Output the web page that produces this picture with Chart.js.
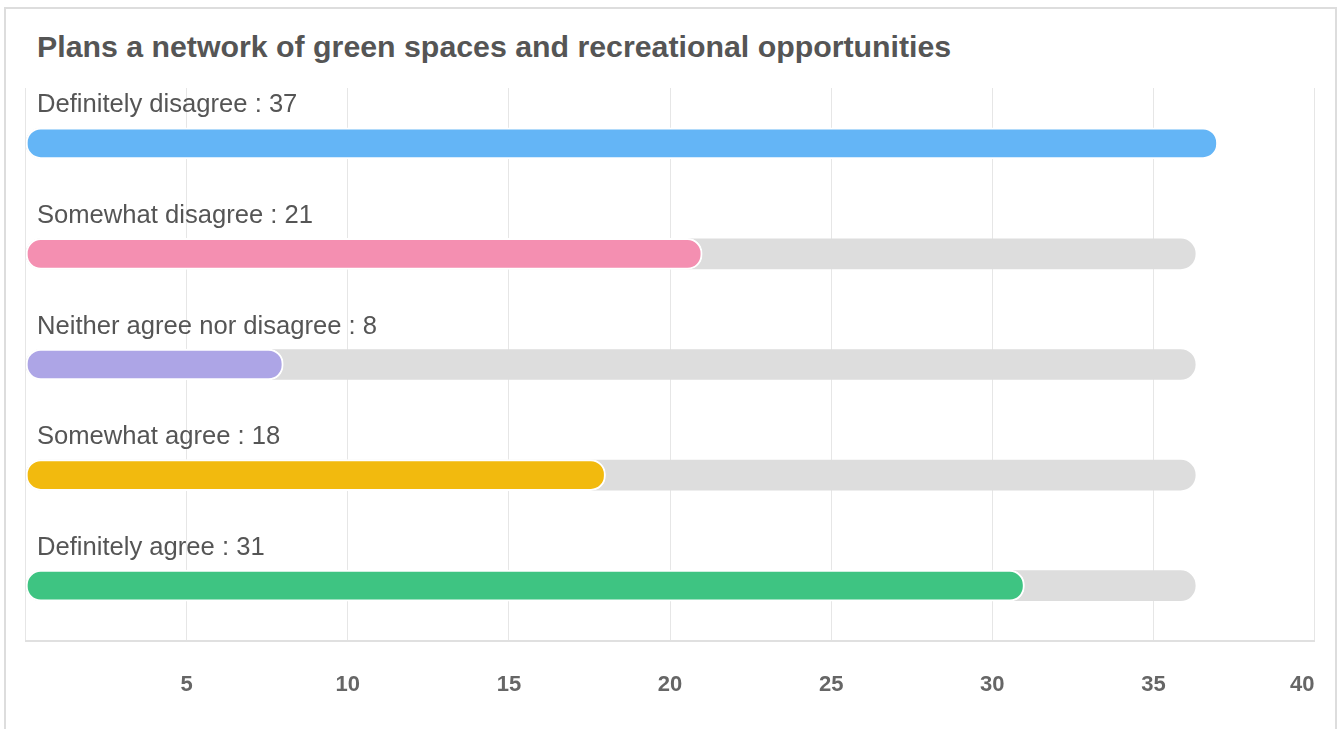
<!DOCTYPE html>
<html>
<head>
<meta charset="utf-8">
<script src="https://cdn.jsdelivr.net/npm/chart.js@4.4.1/dist/chart.umd.min.js"></script>
<style>
  html, body { margin: 0; padding: 0; background: #fff; overflow: hidden; }
  body { width: 1338px; height: 729px; position: relative; font-family: "Liberation Sans", Arial, sans-serif; }
  #card { position: absolute; left: 4px; top: 7px; width: 1333px; height: 800px; box-sizing: border-box; border: 2px solid #dddddd; }
  #title { position: absolute; left: 37px; top: 27px; margin: 0; font-size: 30.3px; font-weight: bold; color: #555555; line-height: 40px; white-space: nowrap; }
  #wrap { position: absolute; left: 0; top: 0; width: 1338px; height: 729px; }
</style>
</head>
<body>
<div id="card"></div>
<h1 id="title">Plans a network of green spaces and recreational opportunities</h1>
<div id="wrap"><canvas id="c" width="1338" height="729"></canvas></div>
<script>
const categories = ["Definitely disagree", "Somewhat disagree", "Neither agree nor disagree", "Somewhat agree", "Definitely agree"];
const values = [37, 21, 8, 18, 31];
const trackValues = [36.3, 36.3, 36.3, 36.3, 36.3];
const barColors = ["#64b5f6", "#f48fb1", "#ada5e6", "#f2ba0e", "#3ec482"];
const tickValues = [0, 5, 10, 15, 20, 25, 30, 35, 40];

const labelPlugin = {
  id: 'labelsAbove',
  afterDatasetsDraw(chart) {
    const ctx = chart.ctx;
    const yScale = chart.scales.y;
    ctx.save();
    ctx.font = '25.6px "Liberation Sans", Arial, sans-serif';
    ctx.fillStyle = '#555555';
    ctx.textAlign = 'left';
    ctx.textBaseline = 'alphabetic';
    categories.forEach((cat, i) => {
      const yc = yScale.getPixelForValue(i);
      ctx.fillText(cat + ' : ' + values[i], 37, yc - 31);
    });
    ctx.restore();
  }
};

new Chart(document.getElementById('c'), {
  type: 'bar',
  data: {
    labels: categories,
    datasets: [
      {
        data: values,
        backgroundColor: barColors,
        borderColor: '#ffffff',
        borderWidth: 2,
        borderRadius: 15,
        borderSkipped: false,
        barThickness: 31,
        grouped: false,
        order: 0
      },
      {
        data: trackValues,
        backgroundColor: '#dddddd',
        borderWidth: 0,
        borderRadius: 15,
        borderSkipped: false,
        barThickness: 30,
        grouped: false,
        order: 1
      }
    ]
  },
  options: {
    indexAxis: 'y',
    responsive: false,
    animation: false,
    layout: { padding: { left: 25.5, right: 23.5, top: 88, bottom: 0 } },
    plugins: { legend: { display: false }, tooltip: { enabled: false }, title: { display: false } },
    scales: {
      x: {
        min: tickValues[0],
        max: tickValues[tickValues.length - 1],
        afterBuildTicks(scale) { scale.ticks = tickValues.map(v => ({ value: v })); },
        grid: { color: '#e6e6e6', lineWidth: 1, drawTicks: false },
        border: { color: '#e0e0e0', width: 2 },
        ticks: {
          align: 'inner',
          padding: 23,
          color: '#666666',
          font: { family: '"Liberation Sans", Arial, sans-serif', size: 22, weight: 'bold', lineHeight: '42px' },
          callback: (v) => v === 0 ? '' : String(v)
        }
      },
      y: {
        display: false,
        grid: { display: false }
      }
    }
  },
  plugins: [labelPlugin]
});
</script>
</body>
</html>
